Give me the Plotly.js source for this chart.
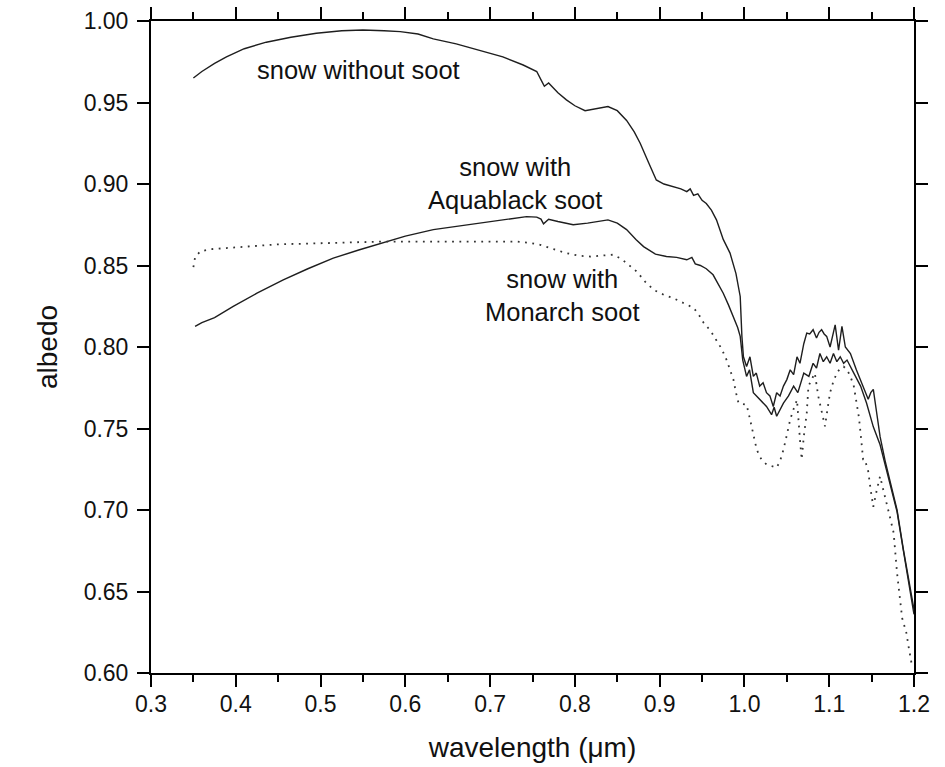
<!DOCTYPE html>
<html>
<head>
<meta charset="utf-8">
<script src="https://cdn.plot.ly/plotly-3.0.1.min.js"></script>
<style>html,body{margin:0;padding:0;background:#fff;}#chart{width:945px;height:767px;}</style>
</head>
<body>
<div id="chart"></div>
<script>
// snow without soot
const cleanX = [0.350,0.360,0.375,0.389,0.410,0.436,0.465,0.495,0.525,0.550,0.575,0.594,0.615,0.633,0.660,0.688,0.715,0.739,0.755,0.761,0.764,0.769,0.780,0.790,0.800,0.812,0.825,0.839,0.850,0.861,0.870,0.877,0.887,0.896,0.905,0.916,0.925,0.932,0.936,0.940,0.945,0.950,0.955,0.961,0.967,0.975,0.983,0.990,0.995,0.997,0.9988,1.0025,1.0065,1.0105,1.014,1.018,1.022,1.026,1.030,1.034,1.038,1.042,1.046,1.050,1.054,1.058,1.062,1.0655,1.070,1.0735,1.077,1.081,1.085,1.088,1.091,1.094,1.097,1.101,1.104,1.107,1.111,1.115,1.119,1.125,1.132,1.140,1.146,1.149,1.152,1.156,1.160,1.166,1.172,1.180,1.1875,1.195,1.200];
const cleanY = [0.965,0.969,0.974,0.978,0.983,0.987,0.990,0.9925,0.994,0.9945,0.994,0.9935,0.992,0.989,0.986,0.982,0.978,0.973,0.969,0.963,0.960,0.962,0.956,0.9516,0.948,0.945,0.946,0.9475,0.945,0.939,0.932,0.925,0.913,0.9025,0.900,0.8984,0.897,0.8953,0.897,0.893,0.894,0.890,0.888,0.884,0.878,0.866,0.8576,0.845,0.831,0.8065,0.794,0.788,0.794,0.782,0.784,0.776,0.778,0.772,0.770,0.7635,0.772,0.770,0.776,0.780,0.786,0.783,0.794,0.790,0.802,0.8085,0.808,0.8106,0.8055,0.809,0.8106,0.808,0.8065,0.800,0.806,0.8136,0.798,0.8126,0.800,0.796,0.786,0.776,0.768,0.772,0.774,0.7595,0.745,0.730,0.7166,0.700,0.6757,0.6532,0.639];

// snow with Aquablack soot
const aquaX = [0.352,0.360,0.375,0.397,0.425,0.456,0.485,0.515,0.545,0.574,0.600,0.633,0.660,0.688,0.715,0.743,0.755,0.760,0.763,0.766,0.769,0.780,0.798,0.815,0.830,0.839,0.850,0.861,0.872,0.881,0.895,0.908,0.920,0.932,0.938,0.942,0.948,0.955,0.963,0.970,0.975,0.981,0.987,0.992,0.995,0.998,1.0025,1.006,1.0105,1.018,1.026,1.032,1.035,1.038,1.046,1.052,1.058,1.063,1.070,1.076,1.081,1.085,1.089,1.093,1.097,1.101,1.105,1.109,1.113,1.117,1.121,1.129,1.137,1.144,1.152,1.160,1.172,1.180,1.1875,1.195,1.200];
const aquaY = [0.8126,0.815,0.818,0.8249,0.833,0.8412,0.848,0.8545,0.8595,0.864,0.868,0.872,0.874,0.876,0.878,0.880,0.8797,0.8785,0.8756,0.877,0.8784,0.877,0.875,0.876,0.877,0.878,0.876,0.872,0.866,0.8616,0.857,0.8555,0.855,0.8535,0.855,0.851,0.850,0.848,0.8443,0.838,0.833,0.826,0.8188,0.812,0.8065,0.792,0.782,0.786,0.772,0.7676,0.7635,0.7585,0.763,0.7575,0.7656,0.770,0.776,0.772,0.784,0.782,0.790,0.787,0.796,0.791,0.794,0.790,0.796,0.791,0.794,0.790,0.792,0.784,0.776,0.7656,0.751,0.740,0.716,0.699,0.675,0.652,0.636];

// snow with Monarch soot
const monX = [0.350,0.352,0.358,0.370,0.389,0.420,0.450,0.476,0.520,0.574,0.620,0.672,0.731,0.745,0.759,0.775,0.790,0.805,0.818,0.830,0.845,0.855,0.865,0.873,0.883,0.893,0.905,0.916,0.928,0.940,0.946,0.952,0.960,0.967,0.973,0.979,0.983,0.987,0.990,0.993,0.998,1.0025,1.006,1.0105,1.0145,1.020,1.026,1.032,1.038,1.042,1.046,1.050,1.054,1.058,1.062,1.0655,1.0675,1.070,1.0735,1.0755,1.080,1.083,1.087,1.091,1.095,1.098,1.101,1.105,1.109,1.113,1.117,1.121,1.125,1.129,1.132,1.135,1.137,1.140,1.142,1.146,1.149,1.152,1.156,1.160,1.163,1.166,1.171,1.176,1.180,1.186,1.191,1.194,1.197];
const monY = [0.849,0.855,0.8586,0.860,0.8607,0.862,0.863,0.8633,0.864,0.8647,0.8647,0.8647,0.8647,0.864,0.8627,0.860,0.8576,0.856,0.8555,0.856,0.8566,0.854,0.850,0.8463,0.840,0.835,0.832,0.830,0.827,0.824,0.820,0.8147,0.810,0.8045,0.799,0.792,0.786,0.780,0.772,0.7656,0.765,0.7646,0.757,0.7472,0.737,0.731,0.728,0.727,0.726,0.730,0.737,0.746,0.7555,0.762,0.7676,0.743,0.731,0.745,0.7595,0.776,0.781,0.784,0.770,0.760,0.7513,0.762,0.772,0.779,0.784,0.787,0.788,0.786,0.782,0.776,0.7676,0.757,0.747,0.731,0.731,0.7237,0.712,0.702,0.712,0.7207,0.714,0.708,0.697,0.686,0.6614,0.6338,0.6246,0.615,0.6062];

const xTickVals = [0.3,0.4,0.5,0.6,0.7,0.8,0.9,1.0,1.1,1.2];
const yTickVals = [0.60,0.65,0.70,0.75,0.80,0.85,0.90,0.95,1.00];

const labelTexts = ['snow without soot', 'snow with<br>Aquablack soot', 'snow with<br>Monarch soot'];
const labelX = [0.545, 0.729, 0.785];
const labelY = [0.970, 0.9004, 0.8314];

const lineColor = '#1e1e1e';
const font = 'Liberation Sans, Arial, Helvetica, sans-serif';

const traces = [
  {x: cleanX, y: cleanY, mode: 'lines', name: 'snow without soot', line: {color: lineColor, width: 1.4}},
  {x: aquaX, y: aquaY, mode: 'lines', name: 'snow with Aquablack soot', line: {color: lineColor, width: 1.4}},
  {x: monX, y: monY, mode: 'lines', name: 'snow with Monarch soot', line: {color: '#333', width: 1.8, dash: '1.8px,5.5px'}}
];

const annotations = labelTexts.map((t, i) => ({
  x: labelX[i], y: labelY[i], xref: 'x', yref: 'y', text: t, showarrow: false,
  font: {family: font, size: 25.5, color: '#111'}, align: 'center'
}));

const layout = {
  width: 945, height: 767,
  margin: {l: 151, r: 31, t: 21, b: 94},
  paper_bgcolor: '#fff', plot_bgcolor: '#fff',
  showlegend: false,
  font: {family: font, color: '#111'},
  xaxis: {
    range: [0.3, 1.2], tickvals: xTickVals, tickformat: '.1f',
    ticks: 'outside', ticklen: 12, tickwidth: 2, tickcolor: '#000',
    minor: {dtick: 0.05, tick0: 0.3, ticks: 'outside', ticklen: 7, tickwidth: 2, tickcolor: '#000', showgrid: false},
    showline: true, linewidth: 2, linecolor: '#000', mirror: 'ticks',
    showgrid: false, zeroline: false,
    tickfont: {family: font, size: 23, color: '#111'},
    ticklabelstandoff: -3,
    title: {text: 'wavelength (μm)', font: {family: font, size: 28, color: '#111'}, standoff: 22}
  },
  yaxis: {
    range: [0.6, 1.0], tickvals: yTickVals, tickformat: '.2f',
    ticks: 'outside', ticklen: 12, tickwidth: 2, tickcolor: '#000',
    showline: true, linewidth: 2, linecolor: '#000', mirror: 'ticks',
    showgrid: false, zeroline: false,
    tickfont: {family: font, size: 23, color: '#111'},
    ticklabelstandoff: 4,
    title: {text: 'albedo', font: {family: font, size: 28, color: '#111'}, standoff: 18}
  },
  annotations: annotations
};

Plotly.newPlot('chart', traces, layout, {displayModeBar: false, staticPlot: true});
</script>
</body>
</html>
